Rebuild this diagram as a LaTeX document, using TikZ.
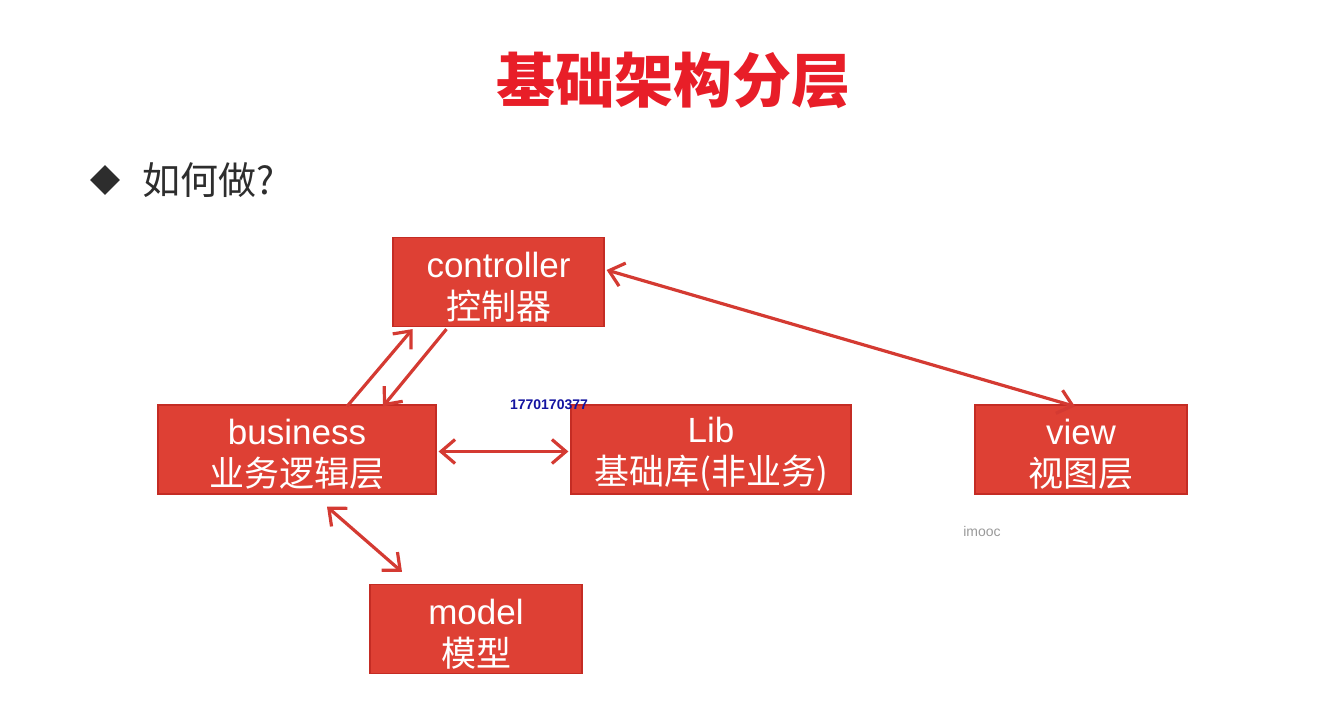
\documentclass[tikz,border=0pt]{standalone}
\usepackage{fontspec}
\setmainfont{Liberation Sans}
\newfontfamily\cjk{Noto Sans CJK SC}
\usetikzlibrary{arrows.meta}
\definecolor{boxred}{RGB}{222,64,52}
\definecolor{boxedge}{RGB}{196,44,36}
\definecolor{linkred}{RGB}{212,58,50}
\definecolor{titlered}{RGB}{232,30,40}
\definecolor{darktext}{RGB}{45,45,45}
\definecolor{idblue}{RGB}{20,20,160}
% first line of each box gets a taller strut so both lines sit a little lower
\newcommand{\boxtext}[2]{{\rule{0pt}{17.8pt}#1}\\{\cjk #2}}
\begin{document}
\begin{tikzpicture}[x=0.5pt,y=-0.5pt,
  layerbox/.style={draw=boxedge, fill=boxred, line width=0.6pt, inner sep=0pt,
    minimum width=#1, minimum height=44.5pt, text=white, align=center,
    font=\fontsize{17.5}{21}\selectfont},
  link/.style={draw=linkred, line width=1.6pt,
    arrows={Straight Barb[length=7pt,width=12pt,line width=1.6pt]-Straight Barb[length=7pt,width=12pt,line width=1.6pt]}},
  onelink/.style={draw=linkred, line width=1.6pt,
    -{Straight Barb[length=7pt,width=12pt,line width=1.6pt]}}]
\useasboundingbox (0,0) rectangle (1317,722);

% title and subtitle
\node[text=titlered, font=\cjk\bfseries\fontsize{29.5}{34}\selectfont] (title) at (673,80) {基础架构分层};
\node[fill=darktext, shape=rectangle, rotate=45, minimum size=10.5pt, inner sep=0pt] (bullet) at (105,180) {};
\node[anchor=west, text=darktext, font=\cjk\fontsize{19}{22}\selectfont] (question) at (135,180) {如何做?};

% layer boxes
\node[layerbox=105.5pt] (ctl) at (498.5,282) {\boxtext{controller}{控制器}};
\node[layerbox=139pt] (bus) at (297,449.5) {\boxtext{business}{业务逻辑层}};
\node[layerbox=140pt] (lib) at (711,449.5) {\boxtext{Lib}{基础库(非业务)}};
\node[layerbox=106pt] (view) at (1081,449.5) {\boxtext{view}{视图层}};
\node[layerbox=106pt] (model) at (476,629) {\boxtext{model}{模型}};

% small marks
\node[text=idblue, font=\bfseries\fontsize{7}{8}\selectfont] (id) at (549,405) {1770170377};
\node[text=black!40, font=\fontsize{7}{8}\selectfont] (mark) at (982,531) {imooc};

% connectors
\draw[link] ([xshift=1pt,yshift=6pt]ctl.east) -- ([xshift=-3pt,yshift=-1pt]view.north);
\draw[onelink] ([xshift=25pt,yshift=-1pt]bus.north) -- ([xshift=-43pt,yshift=-1pt]ctl.south);
\draw[onelink] ([xshift=-26pt,yshift=-1pt]ctl.south) -- ([xshift=43pt,yshift=-1pt]bus.north);
\draw[link] ([xshift=1pt,yshift=-1pt]bus.east) -- ([xshift=-1pt,yshift=-1pt]lib.west);
\draw[link] ([xshift=15pt,yshift=-6pt]bus.south) -- ([xshift=-37pt,yshift=6pt]model.north);
\end{tikzpicture}
\end{document}
